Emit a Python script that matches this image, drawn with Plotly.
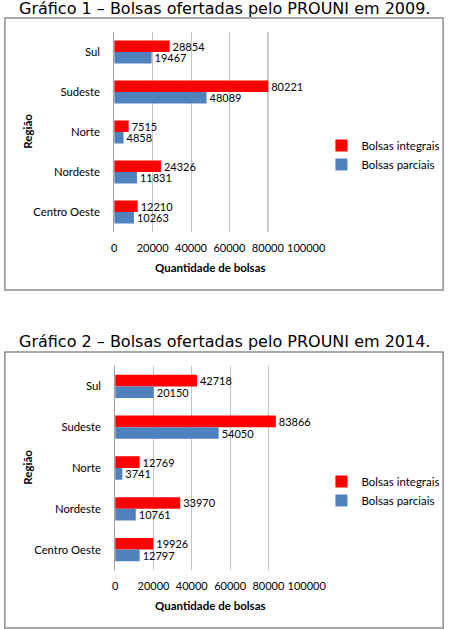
import plotly.graph_objects as go

W, H = 465, 629

regions = ["Sul", "Sudeste", "Norte", "Nordeste", "Centro Oeste"]
integrais_2009 = [28854, 80221, 7515, 24326, 12210]
parciais_2009 = [19467, 48089, 4858, 11831, 10263]
integrais_2014 = [42718, 83866, 12769, 33970, 19926]
parciais_2014 = [20150, 54050, 3741, 10761, 12797]
tick_vals = [0, 20000, 40000, 60000, 80000, 100000]
tick_text = ["0", "20000", "40000", "60000", "80000", "100000"]
titles = ["Gráfico 1 – Bolsas ofertadas pelo PROUNI em 2009.",
          "Gráfico 2 – Bolsas ofertadas pelo PROUNI em 2014."]
series_names = ["Bolsas integrais", "Bolsas parciais"]

RED = "#FF0000"
BLUE = "#4F81BD"
FONT = "Lato"

def px_y(y):
    return 1 - y / H

def px_x(x):
    return x / W

fig = go.Figure()

panels = [
    dict(integ=integrais_2009, parc=parciais_2009, xa="x", ya="y", legend="legend",
         plot_x=(117, 319), plot_y=(32, 232), title_y=8, box=(2, 18, 463, 290),
         axt_y=267, reg_y=131, leg_y=131, dark80=True),
    dict(integ=integrais_2014, parc=parciais_2014, xa="x2", ya="y2", legend="legend2",
         plot_x=(118, 319.5), plot_y=(366, 570), title_y=341, box=(2, 352, 463, 628),
         axt_y=605, reg_y=467, leg_y=467, dark80=False),
]

layout = dict(
    width=W, height=H, margin=dict(l=0, r=0, t=0, b=0),
    autosize=False,
    paper_bgcolor="white", plot_bgcolor="white",
    barmode="group", bargap=0.43, bargroupgap=0,
    font=dict(family=FONT, size=11, color="#000000"),
    showlegend=True,
)
shapes = []
annotations = []

for i, p in enumerate(panels):
    for name, vals, color in [(series_names[0], p["integ"], RED), (series_names[1], p["parc"], BLUE)]:
        fig.add_trace(go.Bar(
            y=regions, x=vals, orientation="h", name=name,
            marker=dict(color=color, line=dict(width=0)),
            text=[str(v) for v in vals], textposition="outside",
            constraintext="none",
            textfont=dict(family=FONT, size=11, color="#000000"),
            cliponaxis=False,
            xaxis=p["xa"], yaxis=p["ya"], legend=p["legend"],
            legendgroup=f"{name}{i}", hoverinfo="skip",
        ))
    suffix = "" if i == 0 else "2"
    layout["xaxis" + suffix] = dict(
        domain=[px_x(p["plot_x"][0]), px_x(p["plot_x"][1])],
        range=[0, 100000], tickvals=tick_vals, ticktext=tick_text,
        tickangle=0,
        showgrid=True, gridcolor="#C4C4C4", gridwidth=1,
        zeroline=False, showline=False, ticks="", ticklen=0,
        ticklabelstandoff=8,
        tickfont=dict(family=FONT, size=11), anchor="y" + suffix,
        fixedrange=True,
    )
    layout["yaxis" + suffix] = dict(
        domain=[px_y(p["plot_y"][1]), px_y(p["plot_y"][0])],
        autorange="reversed", type="category",
        showline=True, linecolor="#A0A0A0", linewidth=1,
        showgrid=False, ticks="", ticklabelstandoff=11,
        tickfont=dict(family=FONT, size=11.3), anchor="x" + suffix,
        fixedrange=True,
    )
    layout[p["legend"]] = dict(
        x=px_x(335), y=px_y(p["leg_y"]), xanchor="left", yanchor="top",
        font=dict(family=FONT, size=11.5), bgcolor="rgba(0,0,0,0)",
        tracegroupgap=11, itemwidth=30, traceorder="normal",
    )
    bx0, by0, bx1, by1 = p["box"]
    shapes.append(dict(type="rect", xref="paper", yref="paper",
                       x0=px_x(bx0), x1=px_x(bx1), y0=px_y(by1), y1=px_y(by0),
                       line=dict(color="#8C8C8C", width=1.5), fillcolor="rgba(0,0,0,0)", layer="below"))
    if p["dark80"]:
        shapes.append(dict(type="line", xref=p["xa"], yref=p["ya"] + " domain",
                           x0=tick_vals[4], x1=tick_vals[4], y0=0, y1=1,
                           line=dict(color="#6E6E6E", width=1), layer="below"))
    annotations.append(dict(text=titles[i], xref="paper", yref="paper",
                            x=0.5, y=px_y(p["title_y"]), xanchor="center", yanchor="middle",
                            showarrow=False, font=dict(family="DejaVu Sans", size=16, color="#000000")))
    annotations.append(dict(text="<b>Quantidade de bolsas</b>", xref="paper", yref="paper",
                            x=px_x(218), y=px_y(p["axt_y"]), xanchor="center", yanchor="middle",
                            showarrow=False, font=dict(family=FONT, size=11.5, color="#000000")))
    annotations.append(dict(text="<b>Região</b>", xref="paper", yref="paper",
                            x=px_x(25), y=px_y(p["reg_y"]), xanchor="center", yanchor="middle",
                            textangle=-90, showarrow=False, font=dict(family=FONT, size=11.5, color="#000000")))

layout["shapes"] = shapes
layout["annotations"] = annotations
fig.update_layout(**layout)
fig.write_html("out.html",
               config={"responsive": False, "displayModeBar": False},
               post_script="document.body.style.margin='0';")
